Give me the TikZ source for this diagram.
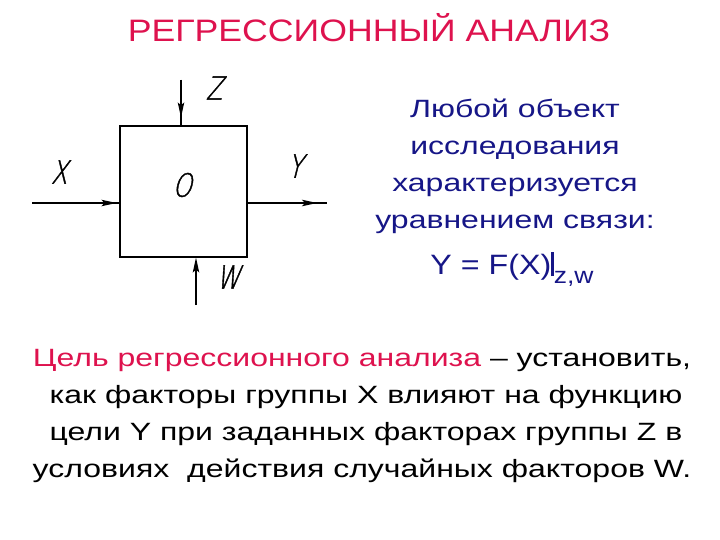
\documentclass[tikz,border=0pt]{standalone}
\usepackage{fontspec}
\setmainfont{Liberation Sans}
\newfontfamily\txtfont{Liberation Sans}[FakeStretch=1.15]
\newfontfamily\bodyfont{Liberation Sans}[FakeStretch=1.28]
\newfontfamily\gostfont{DejaVu Sans ExtraLight}[FakeSlant=0.25,FakeStretch=0.75,FakeBold=1.2]
\usetikzlibrary{arrows.meta}
\definecolor{titlered}{RGB}{222,18,78}
\definecolor{navy}{RGB}{22,22,135}
\tikzset{
  line/.style={line width=1.2pt},
  tipped/.style={line width=1.2pt,-{Stealth[length=15pt,width=6.5pt,inset=3pt]},shorten >=#1},
  blockbox/.style={draw,line width=1.2pt,minimum width=127pt,minimum height=131pt,inner sep=0pt},
  lbl/.style={font=\gostfont\fontsize{32}{36}\selectfont,inner sep=0pt},
  ttl/.style={font=\txtfont\fontsize{31}{36}\selectfont,text=titlered,inner sep=0pt,anchor=base},
  rtxt/.style={font=\bodyfont\fontsize{25}{30}\selectfont,text=navy,inner sep=0pt,anchor=base},
  btxt/.style={font=\bodyfont\fontsize{25}{30}\selectfont,text=black,inner sep=0pt,anchor=base}
}
\begin{document}
\begin{tikzpicture}[x=1pt,y=-1pt]
\useasboundingbox[fill=white] (0,0) rectangle (720,540);
% title
\node[ttl] (title) at (369,42) {РЕГРЕССИОННЫЙ АНАЛИЗ};
% block
\node[blockbox] (box) at (183.5,191.5) {};
\node[lbl] (o) at (182,185) {O};
\coordinate (zs) at (181,80);
\coordinate (ws) at (196,305);
\coordinate (xs) at (32,203);
\coordinate (ye) at (327,203);
\draw[line] (zs) -- (zs |- box.north);
\draw[tipped=8pt] (zs) -- (zs |- box.north);
\draw[tipped=0pt] (ws) -- (ws |- box.south);
\draw[line] (xs) -- (xs -| box.west);
\draw[tipped=3pt] (xs) -- (xs -| box.west);
\draw[line] (ye -| box.east) -- (ye);
\draw[tipped=10pt] (ye -| box.east) -- (ye);
\node[lbl] (zl) at (214,88) {Z};
\node[lbl] (xl) at (59,172) {X};
\node[lbl] (yl) at (295,166) {Y};
\node[lbl] (wl) at (228,277) {W};
% right text
\node[rtxt] (r1) at (515,118) {Любой объект};
\node[rtxt] (r2) at (515,155) {исследования};
\node[rtxt] (r3) at (515,192) {характеризуется};
\node[rtxt] (r4) at (515,229) {уравнением связи:};
\node[rtxt,font=\txtfont\fontsize{28}{34}\selectfont] (r5) at (512,274) {Y = F(X)\rule[-2pt]{2.6pt}{24pt}\raisebox{-9pt}{\fontsize{23}{26}\selectfont z,w}};
% bottom text
\node[btxt] (b1) at (362,366) {{\color{titlered}Цель регрессионного анализа} – установить,};
\node[btxt] (b2) at (366,403) {как факторы группы X влияют на функцию};
\node[btxt] (b3) at (366,440) {цели Y при заданных факторах группы Z в};
\node[btxt] (b4) at (362,477) {условиях\ \ действия случайных факторов W.};
\end{tikzpicture}
\end{document}
